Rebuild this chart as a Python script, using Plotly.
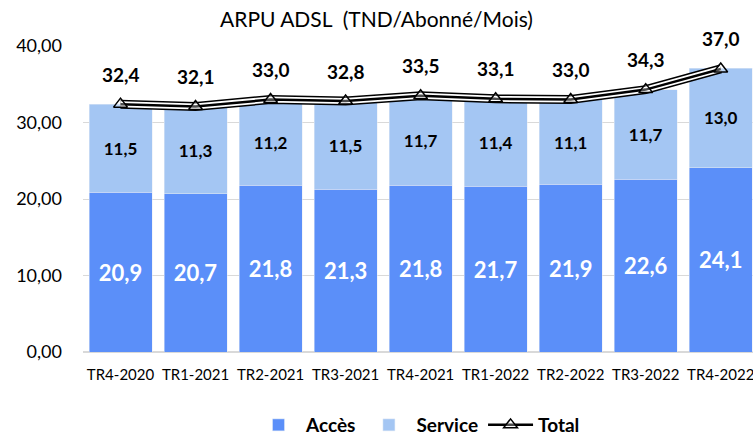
import plotly.graph_objects as go

categories = ["TR4-2020", "TR1-2021", "TR2-2021", "TR3-2021", "TR4-2021",
              "TR1-2022", "TR2-2022", "TR3-2022", "TR4-2022"]
acces = [20.9, 20.7, 21.8, 21.3, 21.8, 21.7, 21.9, 22.6, 24.1]
service = [11.5, 11.3, 11.2, 11.5, 11.7, 11.4, 11.1, 11.7, 13.0]
total = [32.4, 32.1, 33.0, 32.8, 33.5, 33.1, 33.0, 34.3, 37.0]

FONT = "Lato"
fmt = lambda v: f"{v:.1f}".replace(".", ",")

fig = go.Figure()
fig.add_trace(go.Bar(
    x=categories, y=acces, name="Accès", marker_color="#5B8FF9",
    text=[fmt(v) for v in acces], textposition="inside", insidetextanchor="middle",
    textfont=dict(family=FONT, size=22, color="white", weight="bold"),
    textangle=0))
fig.add_trace(go.Bar(
    x=categories, y=service, name="Service", marker_color="#A4C6F3",
    text=[fmt(v) for v in service], textposition="inside", insidetextanchor="middle",
    textfont=dict(family=FONT, size=17, color="black", weight="bold"),
    textangle=0))
# compound line: black outer, white, black center
fig.add_trace(go.Scatter(x=categories, y=total, mode="lines", line=dict(color="black", width=9),
                         showlegend=False, hoverinfo="skip"))
fig.add_trace(go.Scatter(x=categories, y=total, mode="lines", line=dict(color="white", width=6),
                         showlegend=False, hoverinfo="skip"))
fig.add_trace(go.Scatter(x=categories, y=total, mode="lines+markers", name="Total",
                         line=dict(color="black", width=2.5),
                         marker=dict(symbol="triangle-up", size=12, color="rgba(255,255,255,0.3)",
                                     line=dict(color="black", width=1.5))))

for c, t in zip(categories, total):
    fig.add_annotation(x=c, y=t, text=fmt(t), showarrow=False, yshift=30,
                       font=dict(family=FONT, size=19, color="black", weight="bold"))

fig.update_layout(
    width=753, height=436,
    margin=dict(l=83, r=0, t=46, b=84, autoexpand=False),
    paper_bgcolor="white", plot_bgcolor="white",
    barmode="stack", bargap=0.16,
    separators=", ",
    title=dict(text="ARPU ADSL  (TND/Abonné/Mois)", x=0.5, xanchor="center", y=0.956,
               yanchor="middle", font=dict(family=FONT, size=21, color="black")),
    legend=dict(orientation="h", x=0.5, xanchor="center", y=-0.2386, yanchor="middle",
                font=dict(family=FONT, size=19, color="black", weight="bold"),
                traceorder="normal", itemwidth=45),
    font=dict(family=FONT, color="black"),
)
fig.update_xaxes(range=[-0.5, 8.43], showgrid=False, showline=False,
                 tickfont=dict(family=FONT, size=15, color="black"), ticks="",
                 ticklabelstandoff=12)
fig.update_yaxes(range=[0, 40], dtick=10, tickformat=".2f", showgrid=True,
                 gridcolor="#D9D9D9", gridwidth=1, zeroline=True, zerolinecolor="#D9D9D9",
                 zerolinewidth=2, tickfont=dict(family=FONT, size=18, color="black"),
                 ticklabelstandoff=20)
fig.update_traces(cliponaxis=False, selector=dict(type="scatter"))
fig.update_traces(cliponaxis=False, selector=dict(type="bar"))

fig.write_html("out.html", config={"displayModeBar": False},
               post_script="document.body.style.margin='0';document.body.style.overflow='hidden';")
